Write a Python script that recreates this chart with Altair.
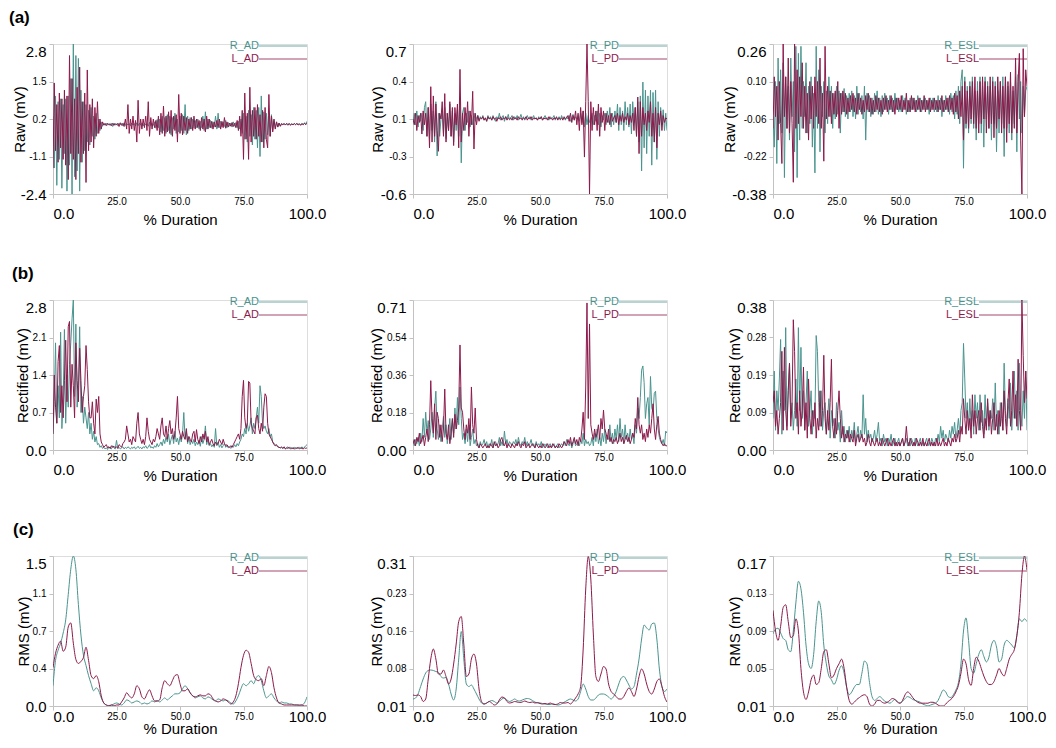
import altair as alt
import pandas as pd

TEAL = "#4a948f"
MAROON = "#8c1a4b"
FONT = "Liberation Sans"
W, H, GAP = 254, 150, 106

# ---------------- Raw (mV), 0.5 % steps ----------------
raw_ad_r = [0.3, -1.5, 1.0, -2.1, 0.8, -1.2, 0.9, -2.2, 0.7, -1.0,
            0.9, -2.3, 1.0, -1.4, 1.6, -2.4, 2.8, -1.8, 2.4, -1.6,
            2.3, -2.3, 1.2, -1.3, 0.8, -0.9, 0.7, -0.6, 0.5, -0.7,
            0.6, -0.4, 0.3, -0.5, 0.4, -0.3, 0.2, -0.2, 0.1, -0.05,
            0.04, -0.02, 0.05, -0.01, 0.03, -0.03, 0.05, -0.06, 0.06, -0.01,
            0.03, -0.03, 0.05, 0.0, 0.04, -0.04, 0.07, -0.02, 0.04, -0.01,
            0.04, -0.03, 0.06, -0.01, 0.04, -0.04, 0.07, -0.03, 0.05, -0.01,
            0.05, -0.04, 0.05, -0.01, 0.04, -0.05, 0.09, -0.03, 0.04, -0.02,
            0.1, -0.12, 0.18, -0.1, 0.2, -0.25, 0.3, -0.2, 0.25, -0.3,
            0.35, -0.2, 0.3, -0.35, 0.25, -0.15, 0.4, -0.3, 0.2, -0.25,
            0.3, -0.2, 0.35, -0.3, 0.7, -0.35, 0.3, -0.2, 0.25, -0.15,
            0.2, -0.12, 0.15, -0.1, 0.2, -0.15, 0.12, -0.1, 0.3, -0.2,
            0.45, -0.15, 0.2, -0.1, 0.15, -0.12, 0.1, -0.08, 0.3, -0.15,
            0.4, -0.1, 0.12, -0.08, 0.1, -0.06, 0.15, -0.1, 0.08, -0.05,
            0.06, -0.08, 0.1, -0.05, 0.08, -0.1, 0.12, -0.15, 0.2, -0.3,
            0.4, -0.5, 0.3, -0.6, 0.5, -0.4, 0.35, -0.7, 0.6, -0.5,
            0.5, -0.8, 0.6, -1.1, 1.0, -0.6, 0.45, -0.5, 0.4, -0.35,
            0.3, -0.4, 0.35, -0.2, 0.15, -0.12, 0.1, -0.08, 0.06, -0.05,
            0.04, 0.0, 0.05, -0.01, 0.04, -0.02, 0.05, 0.0, 0.04, -0.01,
            0.05, 0.0, 0.04, 0.01, 0.04, -0.01, 0.05, 0.0, 0.07, 0.03,
            0.12]
raw_ad_l = [-1.5, 1.45, -0.9, 0.7, -1.3, 1.1, -0.8, 0.9, -1.2, 1.2,
            -1.4, 1.0, -1.9, 2.4, -1.0, 1.6, -1.2, 0.9, -1.9, 1.3,
            -1.0, 2.0, -1.3, 0.8, -1.0, 1.1, -2.0, 1.9, -0.9, 0.7,
            -0.6, 0.9, -0.8, 0.6, -0.4, 0.8, -0.3, 0.2, -0.15, 0.1,
            -0.01, 0.05, -0.03, 0.05, 0.0, 0.04, -0.03, 0.05, -0.02, 0.04,
            -0.01, 0.05, -0.06, 0.07, -0.02, 0.05, -0.06, 0.2, -0.15, 0.7,
            -0.3, 0.2, -0.15, 0.3, -0.2, 0.15, -0.6, 0.85, -0.3, 0.2,
            -0.15, 0.2, -0.1, 0.3, -0.2, 0.8, -0.4, 0.25, -0.15, 0.2,
            -0.1, 0.15, -0.2, 0.3, -0.35, 0.4, -0.3, 0.65, -0.4, 0.3,
            -0.25, 0.45, -0.3, 0.5, -0.4, 0.3, -0.2, 0.35, -0.6, 1.05,
            -0.3, 0.4, -0.35, 0.3, -0.2, 0.25, -0.3, 0.2, -0.15, 0.25,
            -0.2, 0.3, -0.15, 0.2, -0.1, 0.15, -0.2, 0.25, -0.15, 0.2,
            -0.25, 0.3, -0.15, 0.2, -0.1, 0.12, -0.15, 0.1, -0.08, 0.15,
            -0.1, 0.2, -0.15, 0.12, -0.1, 0.25, -0.12, 0.1, -0.08, 0.06,
            -0.05, 0.08, -0.06, 0.05, -0.1, 0.15, -0.2, 0.3, -0.4, 0.5,
            -1.2, 1.1, -0.5, 0.4, -1.2, 1.3, -0.6, 0.5, -0.4, 0.6,
            -0.5, 0.7, -0.4, 0.35, -0.6, 0.5, -0.8, 0.6, -0.5, -0.8,
            1.05, -0.4, 0.3, -0.25, 0.2, -0.15, 0.1, -0.08, 0.06, -0.05,
            0.04, 0.0, 0.04, -0.01, 0.05, 0.0, 0.04, -0.02, 0.03, 0.0,
            0.04, 0.0, 0.05, -0.01, 0.03, -0.02, 0.04, 0.0, 0.05, 0.0,
            0.06]
raw_pd_r = [0.02, 0.1, 0.0, 0.12, -0.02, 0.08, 0.03, 0.1, -0.05, 0.15,
            0.2, -0.1, 0.15, -0.12, 0.18, -0.05, 0.12, -0.15, 0.2, -0.27,
            0.1, -0.1, 0.05, 0.12, -0.08, 0.15, -0.12, 0.1, -0.05, 0.18,
            -0.1, 0.12, -0.15, 0.1, -0.05, 0.15, -0.1, 0.2, -0.33, 0.1,
            0.15, -0.05, 0.1, 0.02, 0.12, -0.02, 0.08, 0.0, 0.1, 0.03,
            0.06, 0.08, 0.04, 0.07, 0.05, 0.08, 0.04, 0.06, 0.03, 0.08,
            0.05, 0.07, 0.04, 0.08, 0.05, 0.03, 0.07, 0.05, 0.1, 0.04,
            0.06, 0.08, 0.03, 0.07, 0.05, 0.09, 0.04, 0.06, 0.08, 0.04,
            0.07, 0.05, 0.08, 0.04, 0.06, 0.09, 0.05, 0.07, 0.04, 0.06,
            0.08, 0.05, 0.07, 0.04, 0.06, 0.08, 0.05, 0.06, 0.04, 0.07,
            0.05, 0.07, 0.04, 0.06, 0.08, 0.05, 0.06, 0.04, 0.07, 0.05,
            0.06, 0.08, 0.04, 0.06, 0.05, 0.07, 0.04, 0.08, 0.05, 0.06,
            0.04, 0.07, 0.05, 0.08, 0.03, 0.06, 0.09, 0.04, 0.07, 0.05,
            0.08, 0.03, 0.1, 0.02, 0.12, -0.02, 0.1, 0.0, 0.08, 0.02,
            0.05, 0.1, 0.0, 0.08, 0.03, 0.12, 0.0, 0.1, -0.02, 0.08,
            0.04, 0.1, 0.0, 0.12, 0.02, 0.15, -0.02, 0.1, 0.0, 0.12,
            0.02, 0.18, -0.05, 0.15, 0.0, 0.12, -0.05, 0.2, 0.0, 0.15,
            -0.02, 0.18, -0.08, 0.2, 0.02, 0.15, -0.1, 0.2, -0.15, 0.25,
            -0.4, 0.37, -0.2, 0.3, -0.25, 0.25, -0.1, 0.3, -0.35, 0.28,
            -0.15, 0.3, -0.3, 0.2, -0.1, 0.15, 0.0, 0.13, -0.05, 0.1,
            -0.05]
raw_pd_l = [0.05, 0.0, 0.1, -0.05, 0.08, 0.02, 0.1, -0.08, 0.12, 0.0,
            0.1, -0.1, 0.15, -0.2, 0.33, -0.15, 0.25, -0.1, 0.18, -0.05,
            -0.23, 0.1, 0.05, 0.2, -0.1, 0.27, -0.15, 0.1, -0.05, 0.2,
            -0.1, 0.15, -0.18, 0.15, 0.0, 0.18, -0.2, 0.48, -0.15, 0.1,
            -0.05, 0.15, 0.0, 0.2, -0.1, 0.12, 0.0, 0.29, -0.21, 0.1,
            0.0, 0.08, 0.03, 0.06, 0.05, 0.07, 0.04, 0.06, 0.03, 0.07,
            0.05, 0.06, 0.04, 0.07, 0.05, 0.06, 0.03, 0.06, 0.05, 0.07,
            0.04, 0.06, 0.05, 0.07, 0.04, 0.06, 0.05, 0.06, 0.04, 0.07,
            0.05, 0.06, 0.04, 0.07, 0.05, 0.06, 0.04, 0.06, 0.05, 0.07,
            0.04, 0.06, 0.05, 0.07, 0.04, 0.06, 0.05, 0.06, 0.04, 0.06,
            0.05, 0.07, 0.04, 0.06, 0.05, 0.06, 0.04, 0.07, 0.05, 0.06,
            0.04, 0.06, 0.05, 0.07, 0.04, 0.06, 0.05, 0.06, 0.04, 0.07,
            0.05, 0.06, 0.08, 0.03, 0.1, 0.02, 0.08, 0.04, 0.12, 0.0,
            0.1, -0.05, 0.15, 0.0, 0.12, -0.28, 0.2, 0.7, 0.2, -0.6,
            0.2, -0.05, 0.15, 0.0, 0.12, -0.05, 0.18, -0.1, 0.15, 0.02,
            0.12, -0.05, 0.1, 0.02, 0.08, 0.0, 0.1, 0.03, 0.06, 0.08,
            0.02, 0.1, 0.0, 0.08, 0.03, 0.1, 0.02, 0.07, 0.04, 0.1,
            0.0, 0.08, 0.02, 0.1, -0.05, 0.15, -0.1, 0.24, -0.25, 0.2,
            -0.1, 0.15, 0.0, 0.1, -0.05, 0.12, 0.02, 0.2, -0.1, 0.1,
            -0.15, 0.15, -0.2, 0.1, 0.0, 0.12, -0.05, 0.08, 0.02, 0.06,
            0.05]
raw_esl_r = [-0.05, -0.18, 0.1, -0.25, 0.2, -0.08, 0.15, -0.12, 0.18, -0.31,
             0.12, -0.1, 0.08, -0.15, 0.2, -0.05, 0.1, -0.2, 0.25, -0.31,
             0.22, -0.15, 0.25, -0.1, 0.1, -0.05, 0.18, -0.12, 0.08, -0.08,
             0.12, -0.18, 0.05, -0.29, 0.25, -0.1, 0.15, -0.2, 0.08, -0.05,
             0.1, -0.12, 0.06, -0.08, 0.12, -0.05, 0.08, -0.1, 0.05, -0.06,
             0.08, -0.04, 0.06, -0.12, 0.05, -0.03, 0.07, -0.05, 0.04, -0.06,
             0.05, -0.03, 0.06, -0.05, 0.04, -0.06, 0.08, -0.04, 0.05, -0.03,
             0.04, -0.06, 0.08, -0.15, 0.05, -0.03, 0.04, -0.05, 0.03, -0.04,
             0.05, -0.03, 0.06, -0.04, 0.03, -0.05, 0.04, -0.03, 0.05, -0.02,
             0.03, -0.04, 0.04, -0.02, 0.03, -0.03, 0.05, -0.02, 0.03, -0.03,
             0.02, -0.03, 0.04, -0.02, 0.03, -0.04, 0.02, -0.03, 0.03, -0.02,
             0.03, -0.02, 0.02, -0.03, 0.04, -0.02, 0.03, -0.03, 0.02, -0.02,
             0.03, -0.02, 0.02, -0.04, 0.03, -0.02, 0.03, -0.03, 0.02, -0.03,
             0.04, -0.02, 0.03, -0.05, 0.02, -0.03, 0.04, -0.02, 0.03, -0.04,
             0.05, -0.03, 0.04, -0.06, 0.06, -0.04, 0.08, -0.08, 0.1, 0.15,
             -0.27, 0.12, -0.1, 0.08, -0.12, 0.1, -0.08, 0.12, -0.1, 0.06,
             -0.15, 0.1, -0.08, 0.12, -0.12, 0.08, -0.18, 0.12, -0.06, 0.1,
             -0.1, 0.08, -0.15, 0.12, -0.08, 0.1, -0.2, 0.06, -0.12, 0.1,
             -0.08, 0.12, -0.22, 0.12, -0.1, 0.08, -0.12, 0.1, -0.15, 0.06,
             -0.08, 0.12, -0.2, 0.13, -0.06, 0.1, -0.12, 0.08, -0.05, 0.06,
             0.08]
raw_esl_l = [-0.1, 0.12, -0.05, 0.08, -0.15, 0.1, -0.08, -0.25, 0.26, -0.05,
             0.12, -0.1, 0.2, -0.12, 0.1, -0.08, -0.33, 0.26, -0.1, 0.15,
             -0.08, 0.12, -0.05, 0.18, -0.1, 0.08, -0.12, 0.05, -0.15, 0.1,
             -0.06, 0.08, -0.1, 0.12, -0.05, 0.1, -0.08, 0.2, -0.1, 0.05,
             -0.24, 0.25, -0.06, 0.08, -0.05, 0.06, -0.08, 0.05, -0.04, 0.06,
             -0.05, 0.1, -0.1, 0.05, -0.04, 0.06, -0.03, 0.05, -0.04, 0.03,
             -0.03, 0.04, -0.02, 0.05, -0.03, 0.03, -0.04, 0.05, -0.02, 0.03,
             -0.04, 0.02, -0.03, 0.04, -0.02, 0.05, -0.03, 0.03, -0.04, 0.02,
             -0.03, 0.04, -0.02, 0.03, -0.03, 0.02, -0.04, 0.03, -0.02, 0.04,
             -0.03, 0.02, -0.02, 0.04, -0.03, 0.02, -0.04, 0.03, -0.02, 0.03,
             -0.02, 0.04, -0.03, 0.02, -0.02, 0.05, -0.03, 0.02, -0.03, 0.04,
             -0.02, 0.03, -0.03, 0.02, -0.02, 0.03, -0.03, 0.02, -0.02, 0.04,
             -0.03, 0.02, -0.02, 0.03, -0.03, 0.02, -0.02, 0.03, -0.02, 0.02,
             -0.03, 0.02, -0.02, 0.04, -0.03, 0.02, -0.02, 0.03, -0.03, 0.04,
             -0.02, 0.03, -0.04, 0.05, -0.03, 0.04, -0.06, 0.06, -0.05, 0.08,
             -0.15, 0.1, -0.08, 0.06, -0.1, 0.08, -0.06, 0.1, -0.08, 0.12,
             -0.1, 0.06, -0.12, 0.1, -0.08, 0.12, -0.06, 0.1, -0.12, 0.08,
             -0.1, 0.12, -0.08, 0.1, -0.14, 0.08, -0.1, 0.12, -0.06, 0.1,
             -0.12, 0.08, -0.1, 0.12, -0.16, 0.1, -0.08, 0.14, -0.12, 0.08,
             -0.1, 0.2, -0.12, 0.1, 0.22, -0.15, -0.38, 0.24, -0.05, 0.15,
             0.08]

# ---------------- Rectified (mV), 0.5 % steps ----------------
rect_ad_r = [0.3, 0.9, 2.0, 0.5, 1.2, 0.6, 2.2, 0.4, 0.9, 2.25,
             0.5, 1.4, 0.8, 1.6, 2.0, 2.45, 2.8, 1.0, 2.35, 0.8,
             1.2, 2.3, 0.7, 1.0, 0.5, 0.8, 0.6, 0.4, 0.7, 0.3,
             0.5, 0.2, 0.35, 0.15, 0.25, 0.1, 0.12, 0.05, 0.08, 0.03,
             0.05, 0.02, 0.04, 0.01, 0.06, 0.03, 0.02, 0.08, 0.04, 0.02,
             0.18, 0.03, 0.05, 0.02, 0.04, 0.06, 0.02, 0.05, 0.03, 0.06,
             0.04, 0.02, 0.05, 0.03, 0.06, 0.02, 0.04, 0.07, 0.03, 0.05,
             0.02, 0.06, 0.04, 0.08, 0.03, 0.05, 0.1, 0.04, 0.06, 0.03,
             0.08, 0.05, 0.12, 0.06, 0.1, 0.15, 0.08, 0.2, 0.12, 0.25,
             0.15, 0.3, 0.1, 0.2, 0.28, 0.12, 0.35, 0.15, 0.22, 0.1,
             0.25, 0.15, 0.3, 0.7, 0.2, 0.35, 0.12, 0.25, 0.1, 0.18,
             0.12, 0.2, 0.08, 0.15, 0.1, 0.18, 0.07, 0.25, 0.12, 0.2,
             0.45, 0.1, 0.2, 0.08, 0.12, 0.06, 0.1, 0.05, 0.4, 0.08,
             0.15, 0.05, 0.1, 0.04, 0.08, 0.12, 0.05, 0.08, 0.04, 0.06,
             0.03, 0.08, 0.05, 0.1, 0.06, 0.12, 0.08, 0.15, 0.2, 0.3,
             0.25, 0.4, 0.3, 0.5, 0.35, 0.45, 0.6, 0.3, 0.5, 0.4,
             0.6, 0.8, 0.5, 1.2, 1.0, 0.5, 0.4, 0.45, 0.35, 0.3,
             0.4, 0.25, 0.3, 0.15, 0.12, 0.1, 0.08, 0.06, 0.05, 0.04,
             0.06, 0.03, 0.05, 0.02, 0.04, 0.06, 0.03, 0.05, 0.02, 0.04,
             0.05, 0.02, 0.04, 0.03, 0.05, 0.02, 0.06, 0.03, 0.05, 0.08,
             0.1]
rect_ad_l = [0.3, 1.4, 0.8, 0.5, 1.65, 1.95, 0.7, 1.2, 0.6, 1.3,
             2.05, 0.9, 2.3, 2.4, 0.8, 1.6, 1.2, 0.6, 2.0, 1.3,
             0.9, 1.9, 1.3, 0.7, 1.0, 1.2, 1.95, 1.5, 0.9, 0.6,
             0.6, 0.9, 0.5, 0.3, 0.95, 0.7, 1.0, 0.3, 0.15, 0.1,
             0.05, 0.08, 0.1, 0.04, 0.06, 0.03, 0.08, 0.05, 0.07, 0.04,
             0.06, 0.03, 0.1, 0.08, 0.05, 0.12, 0.15, 0.2, 0.45, 0.3,
             0.15, 0.2, 0.1, 0.25, 0.2, 0.15, 0.5, 0.7, 0.3, 0.2,
             0.12, 0.2, 0.1, 0.25, 0.6, 0.35, 0.2, 0.15, 0.1, 0.2,
             0.15, 0.25, 0.4, 0.3, 0.2, 0.45, 0.6, 0.3, 0.25, 0.45,
             0.2, 0.4, 0.55, 0.3, 0.4, 0.2, 0.3, 0.6, 1.0, 0.4,
             0.3, 0.2, 0.35, 0.25, 0.2, 0.4, 0.15, 0.25, 0.2, 0.15,
             0.3, 0.35, 0.15, 0.38, 0.2, 0.12, 0.25, 0.15, 0.3, 0.2,
             0.35, 0.15, 0.25, 0.1, 0.15, 0.2, 0.12, 0.08, 0.15, 0.1,
             0.12, 0.2, 0.15, 0.1, 0.2, 0.12, 0.08, 0.1, 0.06, 0.05,
             0.08, 0.05, 0.1, 0.15, 0.2, 0.25, 0.3, 0.2, 0.4, 1.0,
             1.3, 0.6, 0.4, 0.5, 1.28, 1.25, 0.5, 0.4, 0.35, 0.3,
             0.6, 0.65, 0.4, 0.3, 0.5, 0.35, 0.8, 1.05, 1.0, 0.5,
             0.3, 0.25, 0.2, 0.15, 0.1, 0.08, 0.1, 0.06, 0.05, 0.04,
             0.05, 0.03, 0.06, 0.02, 0.04, 0.03, 0.05, 0.02, 0.04, 0.03,
             0.02, 0.04, 0.03, 0.05, 0.02, 0.04, 0.03, 0.02, 0.04, 0.03,
             0.04]
rect_pd_r = [0.04, 0.02, 0.05, 0.03, 0.06, 0.02, 0.08, 0.04, 0.15, 0.06,
             0.18, 0.08, 0.14, 0.05, 0.1, 0.18, 0.06, 0.2, 0.28, 0.1,
             0.05, 0.12, 0.04, 0.1, 0.16, 0.06, 0.12, 0.03, 0.08, 0.15,
             0.05, 0.14, 0.08, 0.2, 0.1, 0.25, 0.12, 0.3, 0.15, 0.05,
             0.08, 0.03, 0.1, 0.04, 0.12, 0.02, 0.06, 0.1, 0.03, 0.05,
             0.02, 0.03, 0.01, 0.04, 0.02, 0.03, 0.05, 0.02, 0.04, 0.01,
             0.03, 0.02, 0.05, 0.01, 0.03, 0.04, 0.02, 0.03, 0.06, 0.02,
             0.04, 0.02, 0.09, 0.03, 0.05, 0.02, 0.04, 0.03, 0.02, 0.04,
             0.03, 0.05, 0.02, 0.06, 0.03, 0.02, 0.04, 0.03, 0.06, 0.02,
             0.04, 0.02, 0.03, 0.05, 0.02, 0.03, 0.01, 0.04, 0.02, 0.03,
             0.02, 0.04, 0.01, 0.03, 0.02, 0.03, 0.01, 0.02, 0.03, 0.01,
             0.02, 0.03, 0.01, 0.02, 0.03, 0.01, 0.02, 0.03, 0.02, 0.04,
             0.02, 0.05, 0.03, 0.02, 0.04, 0.01, 0.03, 0.05, 0.02, 0.03,
             0.04, 0.02, 0.05, 0.03, 0.08, 0.02, 0.05, 0.03, 0.04, 0.02,
             0.03, 0.06, 0.02, 0.08, 0.04, 0.1, 0.03, 0.06, 0.02, 0.08,
             0.04, 0.1, 0.03, 0.07, 0.05, 0.12, 0.04, 0.08, 0.03, 0.1,
             0.05, 0.12, 0.04, 0.15, 0.06, 0.1, 0.03, 0.12, 0.05, 0.08,
             0.04, 0.1, 0.05, 0.08, 0.03, 0.12, 0.08, 0.2, 0.15, 0.25,
             0.38, 0.4, 0.32, 0.15, 0.22, 0.25, 0.12, 0.35, 0.2, 0.18,
             0.27, 0.28, 0.15, 0.1, 0.06, 0.04, 0.03, 0.05, 0.02, 0.09,
             0.08]
rect_pd_l = [0.03, 0.05, 0.02, 0.06, 0.04, 0.08, 0.03, 0.05, 0.07, 0.02,
             0.06, 0.1, 0.04, 0.12, 0.33, 0.15, 0.08, 0.22, 0.05, 0.18,
             0.15, 0.06, 0.12, 0.04, 0.1, 0.29, 0.08, 0.05, 0.12, 0.03,
             0.08, 0.15, 0.06, 0.17, 0.1, 0.14, 0.2, 0.5, 0.2, 0.18,
             0.1, 0.05, 0.12, 0.08, 0.15, 0.05, 0.3, 0.12, 0.08, 0.2,
             0.05, 0.02, 0.01, 0.03, 0.02, 0.01, 0.02, 0.03, 0.01, 0.02,
             0.01, 0.03, 0.02, 0.01, 0.04, 0.02, 0.03, 0.01, 0.02, 0.05,
             0.06, 0.03, 0.02, 0.04, 0.01, 0.03, 0.02, 0.01, 0.03, 0.02,
             0.01, 0.03, 0.02, 0.04, 0.02, 0.01, 0.03, 0.02, 0.04, 0.01,
             0.02, 0.03, 0.01, 0.02, 0.03, 0.02, 0.01, 0.03, 0.02, 0.01,
             0.02, 0.01, 0.03, 0.02, 0.01, 0.02, 0.03, 0.01, 0.02, 0.01,
             0.03, 0.02, 0.01, 0.02, 0.01, 0.03, 0.02, 0.01, 0.02, 0.04,
             0.03, 0.02, 0.05, 0.03, 0.06, 0.02, 0.04, 0.06, 0.03, 0.05,
             0.02, 0.06, 0.04, 0.1, 0.18, 0.05, 0.3, 0.7, 0.15, 0.6,
             0.12, 0.08, 0.05, 0.1, 0.06, 0.08, 0.12, 0.05, 0.15, 0.1,
             0.19, 0.1, 0.08, 0.05, 0.1, 0.04, 0.06, 0.03, 0.05, 0.04,
             0.06, 0.03, 0.05, 0.08, 0.04, 0.06, 0.03, 0.05, 0.07, 0.04,
             0.06, 0.03, 0.05, 0.08, 0.06, 0.15, 0.1, 0.25, 0.12, 0.08,
             0.12, 0.05, 0.08, 0.04, 0.1, 0.06, 0.12, 0.08, 0.15, 0.22,
             0.1, 0.05, 0.12, 0.16, 0.08, 0.05, 0.03, 0.02, 0.03, 0.02,
             0.02]
rect_esl_r = [0.08, 0.2, 0.05, 0.15, 0.1, 0.18, 0.28, 0.04, 0.2, 0.1,
              0.31, 0.06, 0.15, 0.22, 0.08, 0.12, 0.05, 0.1, 0.18, 0.06,
              0.31, 0.1, 0.26, 0.08, 0.15, 0.05, 0.12, 0.2, 0.06, 0.1,
              0.15, 0.04, 0.1, 0.08, 0.29, 0.25, 0.12, 0.06, 0.15, 0.05,
              0.1, 0.12, 0.04, 0.08, 0.13, 0.03, 0.1, 0.06, 0.08, 0.03,
              0.12, 0.05, 0.07, 0.02, 0.1, 0.04, 0.06, 0.02, 0.05, 0.03,
              0.06, 0.02, 0.05, 0.03, 0.07, 0.02, 0.04, 0.06, 0.02, 0.05,
              0.03, 0.14, 0.04, 0.08, 0.02, 0.05, 0.03, 0.04, 0.02, 0.03,
              0.05, 0.02, 0.04, 0.07, 0.02, 0.03, 0.01, 0.04, 0.02, 0.03,
              0.01, 0.03, 0.02, 0.04, 0.01, 0.02, 0.03, 0.01, 0.02, 0.03,
              0.01, 0.02, 0.03, 0.01, 0.02, 0.03, 0.01, 0.02, 0.01, 0.03,
              0.02, 0.01, 0.03, 0.02, 0.01, 0.02, 0.03, 0.01, 0.02, 0.01,
              0.02, 0.03, 0.01, 0.02, 0.01, 0.03, 0.02, 0.01, 0.03, 0.02,
              0.04, 0.02, 0.06, 0.03, 0.05, 0.02, 0.04, 0.03, 0.02, 0.05,
              0.03, 0.06, 0.04, 0.07, 0.03, 0.05, 0.08, 0.04, 0.1, 0.12,
              0.27, 0.18, 0.08, 0.12, 0.05, 0.13, 0.06, 0.1, 0.04, 0.14,
              0.08, 0.12, 0.05, 0.14, 0.07, 0.1, 0.04, 0.14, 0.06, 0.12,
              0.05, 0.1, 0.08, 0.13, 0.05, 0.17, 0.06, 0.1, 0.04, 0.12,
              0.08, 0.05, 0.22, 0.1, 0.06, 0.13, 0.08, 0.17, 0.05, 0.12,
              0.2, 0.08, 0.15, 0.05, 0.22, 0.1, 0.06, 0.15, 0.08, 0.2,
              0.05]
rect_esl_l = [0.12, 0.15, 0.06, 0.1, 0.04, 0.08, 0.12, 0.25, 0.05, 0.26,
              0.1, 0.05, 0.15, 0.22, 0.06, 0.12, 0.33, 0.25, 0.08, 0.12,
              0.04, 0.15, 0.06, 0.1, 0.21, 0.05, 0.12, 0.03, 0.18, 0.08,
              0.04, 0.1, 0.06, 0.12, 0.03, 0.08, 0.05, 0.15, 0.06, 0.1,
              0.24, 0.08, 0.04, 0.1, 0.05, 0.12, 0.23, 0.06, 0.03, 0.08,
              0.04, 0.1, 0.15, 0.08, 0.03, 0.06, 0.02, 0.04, 0.03, 0.05,
              0.02, 0.04, 0.03, 0.02, 0.05, 0.01, 0.03, 0.04, 0.02, 0.03,
              0.04, 0.02, 0.03, 0.01, 0.02, 0.04, 0.02, 0.01, 0.03, 0.02,
              0.01, 0.02, 0.03, 0.01, 0.02, 0.01, 0.03, 0.02, 0.01, 0.02,
              0.03, 0.01, 0.02, 0.01, 0.02, 0.03, 0.01, 0.02, 0.01, 0.02,
              0.01, 0.02, 0.03, 0.01, 0.02, 0.06, 0.02, 0.01, 0.03, 0.02,
              0.01, 0.02, 0.01, 0.03, 0.02, 0.01, 0.02, 0.01, 0.03, 0.01,
              0.02, 0.01, 0.02, 0.03, 0.01, 0.02, 0.01, 0.02, 0.01, 0.03,
              0.01, 0.02, 0.01, 0.02, 0.03, 0.01, 0.02, 0.01, 0.03, 0.02,
              0.01, 0.03, 0.02, 0.04, 0.02, 0.03, 0.05, 0.02, 0.06, 0.04,
              0.13, 0.08, 0.04, 0.1, 0.05, 0.08, 0.03, 0.14, 0.06, 0.1,
              0.04, 0.08, 0.1, 0.05, 0.12, 0.06, 0.03, 0.08, 0.05, 0.13,
              0.06, 0.1, 0.04, 0.08, 0.12, 0.05, 0.09, 0.04, 0.1, 0.06,
              0.12, 0.05, 0.15, 0.08, 0.04, 0.12, 0.18, 0.06, 0.1, 0.2,
              0.08, 0.14, 0.06, 0.23, 0.1, 0.05, 0.38, 0.24, 0.12, 0.2,
              0.13]

# ---------------- RMS (mV), 1 % steps ----------------
rms_ad_r = [0.2, 0.45, 0.55, 0.62, 0.72, 0.85, 1.1, 1.35, 1.48, 1.35,
            1.0, 0.7, 0.5, 0.4, 0.3, 0.22, 0.15, 0.18, 0.15, 0.08,
            0.03, 0.01, 0.005, 0.01, 0.02, 0.03, 0.02, 0.01, 0.03, 0.06,
            0.05, 0.03, 0.04, 0.05, 0.04, 0.02, 0.03, 0.02, 0.03, 0.05,
            0.04, 0.05, 0.04, 0.06, 0.08, 0.06, 0.08, 0.1, 0.12, 0.12,
            0.13, 0.17, 0.2, 0.17, 0.13, 0.1, 0.08, 0.09, 0.1, 0.08,
            0.07, 0.09, 0.08, 0.06, 0.05, 0.07, 0.06, 0.05, 0.06, 0.05,
            0.03, 0.02, 0.05, 0.1, 0.17, 0.22, 0.2, 0.22, 0.25, 0.22,
            0.28, 0.3, 0.25, 0.15, 0.08, 0.1, 0.12, 0.08, 0.05, 0.03,
            0.04, 0.03, 0.03, 0.02, 0.02, 0.01, 0.01, 0.005, 0.01, 0.03,
            0.09]
rms_ad_l = [0.38, 0.52, 0.6, 0.64, 0.54, 0.58, 0.78, 0.82, 0.62, 0.46,
            0.42, 0.44, 0.48, 0.58, 0.45, 0.3, 0.27, 0.3, 0.24, 0.1,
            0.03, 0.01, 0.0, 0.01, 0.0, 0.01, 0.01, 0.04, 0.08, 0.13,
            0.1, 0.08, 0.12, 0.2, 0.17, 0.09, 0.07, 0.12, 0.16, 0.1,
            0.05, 0.05, 0.06, 0.18, 0.25, 0.22, 0.2, 0.25, 0.3, 0.31,
            0.22, 0.15, 0.15, 0.17, 0.13, 0.1, 0.09, 0.1, 0.11, 0.1,
            0.1, 0.12, 0.11, 0.07, 0.05, 0.04, 0.05, 0.07, 0.06, 0.04,
            0.02, 0.04, 0.1, 0.22, 0.38, 0.5, 0.55, 0.53, 0.42, 0.3,
            0.26, 0.25, 0.27, 0.2, 0.3, 0.39, 0.33, 0.18, 0.08, 0.03,
            0.02, 0.01, 0.01, 0.01, 0.01, 0.01, 0.01, 0.01, 0.01, 0.0,
            0.0]
rms_pd_r = [0.02, 0.022, 0.03, 0.045, 0.06, 0.072, 0.077, 0.078, 0.077, 0.075,
            0.073, 0.065, 0.062, 0.063, 0.05, 0.03, 0.018, 0.04, 0.1, 0.155,
            0.1, 0.05, 0.045, 0.048, 0.04, 0.03, 0.02, 0.012, 0.01, 0.012,
            0.015, 0.017, 0.015, 0.012, 0.015, 0.02, 0.022, 0.018, 0.015, 0.017,
            0.02, 0.017, 0.016, 0.018, 0.02, 0.021, 0.02, 0.017, 0.014, 0.012,
            0.012, 0.011, 0.01, 0.009, 0.009, 0.01, 0.009, 0.008, 0.009, 0.012,
            0.015, 0.018, 0.02, 0.018, 0.016, 0.02, 0.035, 0.05, 0.04, 0.025,
            0.018, 0.018, 0.022, 0.028, 0.03, 0.03, 0.028, 0.024, 0.02, 0.025,
            0.035, 0.05, 0.062, 0.065, 0.058, 0.048, 0.04, 0.045, 0.07, 0.1,
            0.14, 0.168, 0.162, 0.158, 0.17, 0.172, 0.14, 0.08, 0.045, 0.035,
            0.04]
rms_pd_l = [0.028, 0.027, 0.028, 0.025, 0.015, 0.02, 0.06, 0.1, 0.12, 0.1,
            0.07, 0.07, 0.078, 0.065, 0.05, 0.06, 0.09, 0.13, 0.175, 0.185,
            0.13, 0.065, 0.07, 0.1, 0.11, 0.09, 0.04, 0.015, 0.01, 0.012,
            0.015, 0.012, 0.008, 0.01, 0.018, 0.024, 0.022, 0.015, 0.012, 0.013,
            0.015, 0.014, 0.013, 0.014, 0.016, 0.014, 0.013, 0.014, 0.012, 0.013,
            0.011, 0.01, 0.011, 0.01, 0.012, 0.01, 0.009, 0.01, 0.013, 0.012,
            0.012, 0.013, 0.01, 0.015, 0.022, 0.03, 0.045, 0.12, 0.24, 0.305,
            0.26, 0.15, 0.065, 0.055, 0.07, 0.085, 0.08, 0.05, 0.035, 0.03,
            0.025, 0.02, 0.02, 0.025, 0.035, 0.042, 0.035, 0.025, 0.04, 0.065,
            0.08, 0.07, 0.05, 0.035, 0.03, 0.04, 0.055, 0.06, 0.045, 0.025,
            0.014]
rms_esl_r = [0.087, 0.092, 0.093, 0.088, 0.082, 0.08, 0.07, 0.068, 0.09, 0.12,
             0.143, 0.135, 0.11, 0.075, 0.055, 0.05, 0.065, 0.1, 0.122, 0.11,
             0.075, 0.055, 0.042, 0.038, 0.033, 0.038, 0.048, 0.053, 0.045, 0.03,
             0.022, 0.025, 0.03, 0.033, 0.033, 0.045, 0.058, 0.055, 0.035, 0.02,
             0.016, 0.018, 0.02, 0.018, 0.015, 0.014, 0.013, 0.015, 0.017, 0.015,
             0.013, 0.015, 0.018, 0.02, 0.019, 0.017, 0.016, 0.015, 0.014, 0.012,
             0.011, 0.01, 0.011, 0.012, 0.013, 0.016, 0.022, 0.027, 0.025, 0.02,
             0.019, 0.022, 0.027, 0.035, 0.055, 0.09, 0.104, 0.08, 0.05, 0.045,
             0.055, 0.065, 0.07, 0.063, 0.057, 0.062, 0.075, 0.08, 0.073, 0.057,
             0.06, 0.075, 0.08, 0.078, 0.075, 0.072, 0.085, 0.103, 0.1, 0.103,
             0.1]
rms_esl_l = [0.112, 0.09, 0.08, 0.095, 0.115, 0.118, 0.1, 0.083, 0.085, 0.103,
             0.09, 0.05, 0.025, 0.017, 0.025, 0.038, 0.043, 0.033, 0.035, 0.05,
             0.068, 0.07, 0.055, 0.04, 0.043, 0.05, 0.055, 0.06, 0.05, 0.03,
             0.016, 0.012, 0.014, 0.017, 0.019, 0.021, 0.022, 0.02, 0.012, 0.01,
             0.012, 0.016, 0.016, 0.014, 0.013, 0.014, 0.016, 0.018, 0.017, 0.014,
             0.013, 0.016, 0.022, 0.025, 0.023, 0.019, 0.016, 0.014, 0.013, 0.013,
             0.013, 0.013, 0.014, 0.014, 0.013, 0.011, 0.01, 0.01, 0.012, 0.015,
             0.017, 0.02, 0.025, 0.032, 0.045, 0.06, 0.055, 0.038, 0.032, 0.05,
             0.062, 0.058, 0.05, 0.042, 0.036, 0.033, 0.033, 0.036, 0.043, 0.05,
             0.045, 0.042, 0.05, 0.06, 0.065, 0.07, 0.085, 0.11, 0.15, 0.17,
             0.155]

# ---------------- axes ----------------
x_tick_values = [0, 25, 50, 75, 100]
ad_names = ["R_AD", "L_AD"]
pd_names = ["R_PD", "L_PD"]
esl_names = ["R_ESL", "L_ESL"]

raw_ad_dom, raw_ad_lab = [-2.4, 2.8], ["-2.4", "-1.1", "0.2", "1.5", "2.8"]
raw_pd_dom, raw_pd_lab = [-0.6, 0.7], ["-0.6", "-0.3", "0.1", "0.4", "0.7"]
raw_esl_dom, raw_esl_lab = [-0.38, 0.26], ["-0.38", "-0.22", "-0.06", "0.10", "0.26"]
rect_ad_dom, rect_ad_lab = [0.0, 2.8], ["0.0", "0.7", "1.4", "2.1", "2.8"]
rect_pd_dom, rect_pd_lab = [0.0, 0.714], ["0.00", "0.18", "0.36", "0.54", "0.71"]
rect_esl_dom, rect_esl_lab = [0.0, 0.38], ["0.00", "0.09", "0.19", "0.28", "0.38"]
rms_ad_dom, rms_ad_lab = [0.0, 1.48], ["0.0", "0.4", "0.7", "1.1", "1.5"]
rms_pd_dom, rms_pd_lab = [0.006, 0.306], ["0.01", "0.08", "0.16", "0.23", "0.31"]
rms_esl_dom, rms_esl_lab = [0.01, 0.17], ["0.01", "0.05", "0.09", "0.13", "0.17"]

AX = dict(domainColor="#c2c2c2", tickColor="#c2c2c2", tickSize=4, grid=False,
          labelFont=FONT, titleFont=FONT, labelColor="black", titleColor="black",
          titleFontSize=15, titleFontWeight="normal")


def x_axis(last_row):
    end = "(datum.value == 0 || datum.value == 100)"
    common = dict(values=x_tick_values, format=".1f", title="% Duration", labelFlush=False,
                  labelAlign={"expr": "datum.value == 0 ? 'left' : 'center'"},
                  labelFontSize={"expr": f"{end} ? 15 : 10"}, **AX)
    if last_row:
        return alt.Axis(labelBaseline="middle", labelPadding=6, minExtent=11, maxExtent=11,
                        titlePadding=4, **common)
    return alt.Axis(labelBaseline={"expr": f"{end} ? 'top' : 'bottom'"}, labelPadding=8,
                    minExtent=13, maxExtent=13, titlePadding=5, **common)


def y_axis(dom, labels, title, extent):
    lo, hi = dom
    ticks = [lo + k * (hi - lo) / 4 for k in range(5)]
    expr = "".join(f"abs(datum.value - ({v})) < 1e-6 ? '{s}' : " for v, s in zip(ticks, labels)) + "''"
    is_hi = f"abs(datum.value - ({hi})) < 1e-6"
    is_end = f"(abs(datum.value - ({lo})) < 1e-6 || {is_hi})"
    return alt.Axis(values=ticks, labelExpr=expr, title=title, labelPadding=3,
                    labelFontSize={"expr": f"{is_end} ? 15 : 10"},
                    labelBaseline={"expr": f"{is_hi} ? 'top' : 'middle'"},
                    minExtent=extent, maxExtent=extent, titlePadding=4, **AX)


def panel(r, l, names, dom, labels, ytitle, extent, last_row=False, interp="linear", tag=None):
    xs_r = [i * 100.0 / (len(r) - 1) for i in range(len(r))]
    xs_l = [i * 100.0 / (len(l) - 1) for i in range(len(l))]
    xenc = alt.X("x:Q", scale=alt.Scale(domain=[0, 100], nice=False, zero=False), axis=x_axis(last_row))
    yenc = alt.Y("v:Q", scale=alt.Scale(domain=dom, nice=False, zero=False),
                 axis=y_axis(dom, labels, ytitle, extent))
    lr = alt.Chart(pd.DataFrame({"x": xs_r, "v": r})).mark_line(
        color=TEAL, strokeWidth=1, interpolate=interp, clip=True).encode(x=xenc, y=yenc)
    ll = alt.Chart(pd.DataFrame({"x": xs_l, "v": l})).mark_line(
        color=MAROON, strokeWidth=1, interpolate=interp, clip=True).encode(x=xenc, y=yenc)
    layers = [lr, ll]
    for name, col, yy in [(names[0], TEAL, 2), (names[1], MAROON, 15)]:
        d = pd.DataFrame({"name": [name]})
        layers.append(alt.Chart(d).mark_rule(color=col, strokeWidth=1, opacity=0.8).encode(
            x=alt.value(W - 48), x2=alt.value(W), y=alt.value(yy)))
        layers.append(alt.Chart(d).mark_text(align="right", baseline="middle", fontSize=11,
                                             font=FONT, color=col).encode(
            text="name:N", x=alt.value(W - 48), y=alt.value(yy)))
    ch = alt.layer(*layers).properties(width=W, height=H)
    if tag:
        ch = ch.properties(title=alt.TitleParams(text=tag, anchor="start", fontSize=17,
                                                 fontWeight="bold", font=FONT, color="black",
                                                 baseline="bottom", offset=-4, dx=-3))
    return ch


panels = [
    panel(raw_ad_r, raw_ad_l, ad_names, raw_ad_dom, raw_ad_lab, "Raw (mV)", 22, tag="(a)"),
    panel(raw_pd_r, raw_pd_l, pd_names, raw_pd_dom, raw_pd_lab, "Raw (mV)", 24),
    panel(raw_esl_r, raw_esl_l, esl_names, raw_esl_dom, raw_esl_lab, "Raw (mV)", 32),
    panel(rect_ad_r, rect_ad_l, ad_names, rect_ad_dom, rect_ad_lab, "Rectified (mV)", 19, tag="(b)"),
    panel(rect_pd_r, rect_pd_l, pd_names, rect_pd_dom, rect_pd_lab, "Rectified (mV)", 25),
    panel(rect_esl_r, rect_esl_l, esl_names, rect_esl_dom, rect_esl_lab, "Rectified (mV)", 27),
    panel(rms_ad_r, rms_ad_l, ad_names, rms_ad_dom, rms_ad_lab, "RMS (mV)", 18, True, "monotone", tag="(c)"),
    panel(rms_pd_r, rms_pd_l, pd_names, rms_pd_dom, rms_pd_lab, "RMS (mV)", 25, True, "monotone"),
    panel(rms_esl_r, rms_esl_l, esl_names, rms_esl_dom, rms_esl_lab, "RMS (mV)", 27, True, "monotone"),
]

chart = alt.concat(*panels, columns=3, spacing=GAP, bounds="flush").properties(padding=0)
chart = chart.configure_view(stroke=None).configure(background="white")
chart.save("out.html", embed_options={"renderer": "svg", "actions": False})
